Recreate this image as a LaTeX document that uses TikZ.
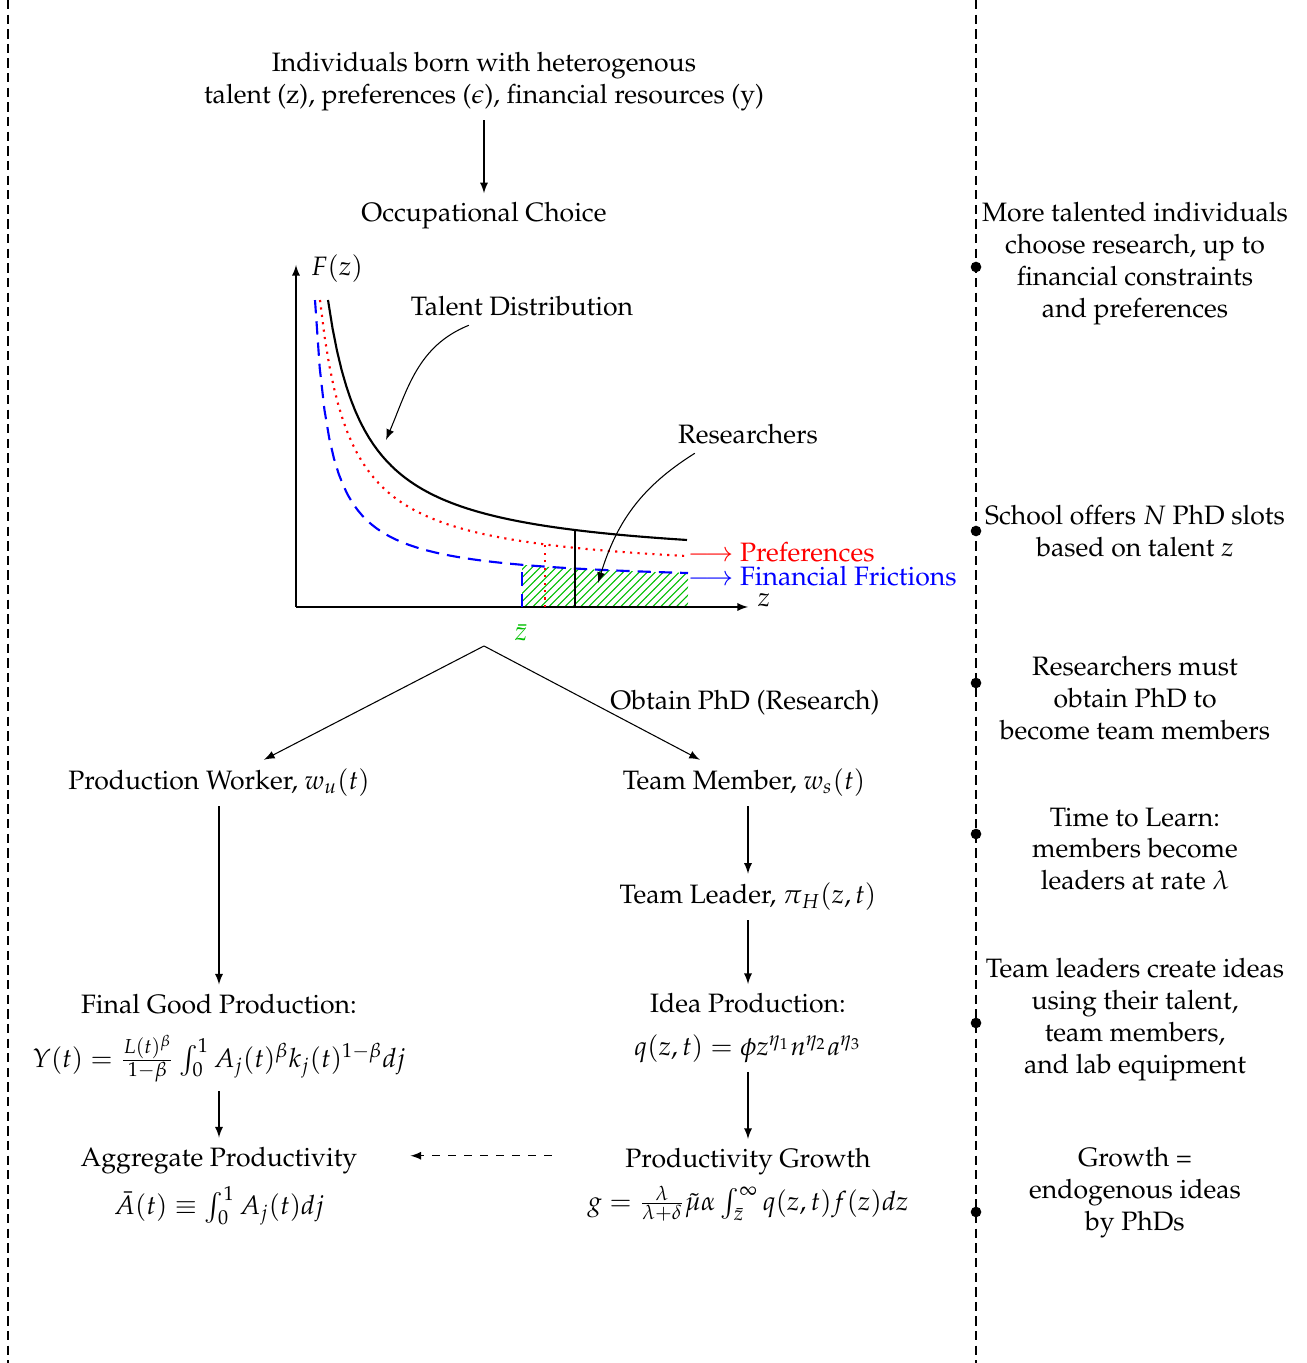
\documentclass[tikz,border=0pt]{standalone}
\usepackage[T1]{fontenc}
\usepackage{mathpazo}
\usepackage{amsmath}
\usepackage{xcolor}
\usetikzlibrary{arrows,calc,positioning,patterns}
\tikzset{
>=latex,
  stage/.style={
    align=center,
    inner sep=0.333em},
  note/.style={
    align=center,
    inner sep=0.2em},
  myarrow/.style={draw, ->},
  timeline/.style={draw, thin, dash pattern=on 3.5pt off 2pt},
  timedot/.style={circle, fill=black, inner sep=0pt, minimum size=4pt},
}

\begin{document}
\begin{tikzpicture}[x=0.376pt, y=0.376pt]
      \tikzset{
          talentcurve/.style={thick},
          prefcurve/.style={thick, red, dotted},
          fincurve/.style={thick, blue, dash pattern=on 5pt off 3pt},
          zbarcolor/.style={green!75!black},
      }
      \useasboundingbox (0,0) rectangle (1306,1363);

      % timeline dividers
      \coordinate (LTop) at (8,1363);
      \coordinate (LBot) at (8,0);
      \coordinate (RTop) at (976,1363);
      \coordinate (RBot) at (976,0);
      \path[timeline] (LTop) -- (LBot);
      \path[timeline] (RTop) -- (RBot);
      \foreach \yy/\nm in {1096/dot1, 832/dot2, 680/dot3, 529/dot4, 340/dot5, 151/dot6}
          \node[timedot] (\nm) at (976,\yy) {};

      % top of the flow
      \node[stage] (indiv) at (484,1281.5) {Individuals born with heterogenous\\ talent (z), preferences ($\epsilon$), financial resources (y)};
      \node[stage] (occ) at (484,1147) {Occupational Choice};
      \path[myarrow] (indiv) -- (occ);

      % talent distribution plot
      \coordinate (Orig) at (296,756);
      \coordinate (YEnd) at (296,1098);
      \coordinate (XEnd) at (748,756);
      \fill[pattern=north east lines, pattern color=green!75!black] (522,756) -- plot[domain=522:688, samples=20] (\x,{779+4259/(\x-300)}) -- (688,756) -- cycle;
      \draw[->] (Orig) -- (YEnd);
      \draw[->] (Orig) -- (XEnd);
      \node (Flabel) at (337,1094) {$F(z)$};
      \node (zlabel) at (764,763) {$z$};
      \draw[talentcurve] plot[domain=328:687, samples=80] (\x,{797.6+10085/(\x-290)});
      \draw[prefcurve] plot[domain=320:688, samples=80] (\x,{786+8309/(\x-290)});
      \draw[fincurve] plot[domain=315:688, samples=80] (\x,{779+4259/(\x-300)});
      \draw[talentcurve] (575,756) -- (575,833);
      \draw[prefcurve] (545,756) -- (545,818.6);
      \draw[fincurve] (522,756) -- (522,798);
      \node[anchor=west, inner sep=0.5pt, red] (pref) at (686,811) {$\longrightarrow$ Preferences};
      \node[anchor=west, inner sep=0.5pt, blue] (fin) at (686,787) {$\longrightarrow$ Financial Frictions};
      \node[zbarcolor] (zbar) at (521,730) {$\bar{z}$};

      \node (talent) at (522,1057) {Talent Distribution};
      \coordinate (tipTalent) at (386,923);
      \draw[->] ([xshift=-20pt]talent.south) to[out=202, in=67] (tipTalent);
      \node (research) at (748,929) {Researchers};
      \coordinate (tipResearch) at (598,780);
      \draw[->] ([xshift=-20pt]research.south) to[out=212, in=73] (tipResearch);

      % occupations
      \coordinate (split) at (484,717);
      \node[stage] (prodw) at (219,580) {Production Worker, $w_u(t)$};
      \node[stage] (team) at (744,580) {Team Member, $w_s(t)$};
      \path[myarrow] (split) -- (prodw);
      \path[myarrow] (split) -- (team);
      \node[stage] (phd) at (745,660) {Obtain PhD (Research)};

      % production side
      \node[stage] (final) at (219,325) {Final Good Production:\\[7pt] $Y(t) = \frac{L(t)^{\beta}}{1-\beta}\int_0^1 A_j(t)^{\beta}k_j(t)^{1-\beta}dj$};
      \node[stage] (aggr) at (219,177) {Aggregate Productivity\\[3.6pt] $\bar{A}(t)\equiv\int_0^1 A_j(t)dj$};
      \path[myarrow] (prodw) -- (final);
      \path[myarrow] (final) -- (aggr);

      % research side
      \node[stage] (leader) at (748,466) {Team Leader, $\pi_H(z,t)$};
      \node[stage] (idea) at (748,335) {Idea Production:\\[4pt] $q(z,t)=\phi z^{\eta_1}n^{\eta_2}a^{\eta_3}$};
      \node[stage] (growth) at (748,178) {Productivity Growth\\[3pt] $g=\frac{\lambda}{\lambda+\delta}\tilde{\mu}\alpha\int_{\bar{z}}^{\infty}q(z,t)f(z)dz$};
      \path[myarrow] (leader |- team.south) -- (leader);
      \path[myarrow] (leader) -- (idea);
      \path[myarrow] (idea) -- (growth);
      \coordinate (gLine) at ([yshift=11pt]growth.west);
      \path[myarrow, dashed, shorten <=10pt, shorten >=16.5pt] (gLine) -- (aggr.east |- gLine);

      % timeline notes
      \node[note] (note1) at (1135,1099) {More talented individuals\\ choose research, up to\\ financial constraints\\ and preferences};
      \node[note] (note2) at (1135,832) {School offers $N$ PhD slots\\ based on talent $z$};
      \node[note] (note3) at (1135,665) {Researchers must\\ obtain PhD to\\ become team members};
      \node[note] (note4) at (1135,514) {Time to Learn:\\ members become\\ leaders at rate $\lambda$};
      \node[note] (note5) at (1135,343.5) {Team leaders create ideas\\ using their talent,\\ team members,\\ and lab equipment};
      \node[note] (note6) at (1135,170) {Growth =\\ endogenous ideas\\ by PhDs};

\end{tikzpicture}
\end{document}
